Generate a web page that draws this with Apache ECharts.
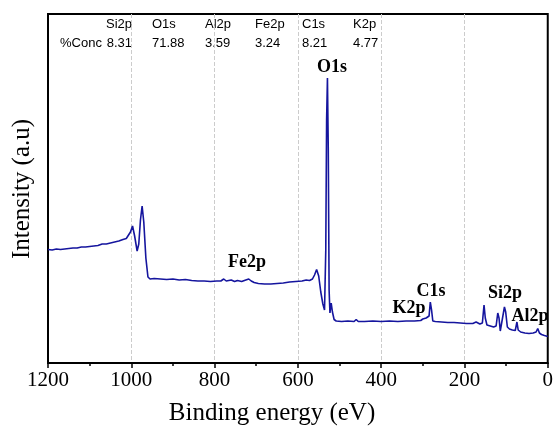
<!DOCTYPE html>
<html>
<head>
<meta charset="utf-8">
<script src="https://cdn.jsdelivr.net/npm/echarts@6/dist/echarts.min.js"></script>
<style>html,body{margin:0;padding:0;background:#fff}#c{width:556px;height:434px}</style>
</head>
<body>
<div id="c"></div>
<script>
// Binding energy (eV) of each sampled point
var energies = [1200,1190,1180,1170,1160,1150,1140,1130,1120,1110,1100,1090,1080,1070,1060,1050,1040,1030,1020,1012,1008,1002,997,992,986,982,978,974,970,965,960,955,945,930,915,900,885,870,855,840,825,810,795,785,778,772,760,752,745,735,725,718,712,705,695,680,665,650,635,620,605,590,580,572,565,560,555,550,545,540,536,533,531,529,527,525,523,520,517,513,508,495,480,465,460,455,440,420,400,380,360,340,320,305,300,296,292,288,285,282,279,276,270,255,240,225,210,195,180,172,163,157,153,150,146,138,130,124,120,117,114,110,104,101,97,92,85,78,74,71,65,55,45,35,28,24,20,15,8,0];
// Intensity (arbitrary units)
var intensities = [113.5,113,114,113.5,114,114.5,115,115,116,116,116.5,117,117.5,119,119,120,121,122,123.5,124.5,123,131,137,127,112,119,143,157,141,105,86,84,84.5,84,83.5,84,83,83.5,82.5,82,82,81.5,82,82,84,82,83,81.5,82.5,81.5,83,84,82,80.5,79.5,79,79,79.5,80,81,81.5,82,83,82.5,84,88,93.5,87,71,59,53,113,243,285,213,73,50,60,51,43.5,42,41.5,42,41.5,43.5,41.5,41.5,42,41.5,42,41.5,42,42,42.5,44,42.5,45,43.5,47,61,53,42,41.5,41,40.5,40.5,40,39.5,39.5,41,39,40,58,45,38,37,36,37,50,45,32,34,56,51,36,34,33,32.5,41,33,31,30,29.5,30,31,34.5,30,28.5,27.5,26.5];
// Peak annotations and quantification table
var peakLabels = ['O1s','Fe2p','C1s','K2p','Si2p','Al2p'];
var concElements = ['Si2p','O1s','Al2p','Fe2p','C1s','K2p'];
var concValues = ['8.31','71.88','3.59','3.24','8.21','4.77'];
var xTicks = [0,200,400,600,800,1000,1200];

var data = energies.map(function(e,i){return [e,intensities[i]];});
var chart = echarts.init(document.getElementById('c'), null, {renderer:'canvas'});

var serif = 'Liberation Serif, Times New Roman, serif';
var sans = 'Liberation Sans, Arial, sans-serif';

var graphics = [];
var colX = [132,152,205,255,302,353];
concElements.forEach(function(el,i){
  var al = i===0 ? 'right' : 'left';
  graphics.push({type:'text', x:colX[i], y:24, style:{text:el, font:'13px '+sans, fill:'#000', textAlign:al, align:al, textVerticalAlign:'middle', verticalAlign:'middle'}});
  graphics.push({type:'text', x:colX[i], y:43, style:{text:concValues[i], font:'13px '+sans, fill:'#000', textAlign:al, align:al, textVerticalAlign:'middle', verticalAlign:'middle'}});
});
graphics.push({type:'text', x:60, y:43, style:{text:'%Conc', font:'13px '+sans, fill:'#000', textAlign:'left', align:'left', textVerticalAlign:'middle', verticalAlign:'middle'}});
var labelPos = [[332,67],[247,262],[431,291],[409,308],[505,293],[530,316]];
peakLabels.forEach(function(t,i){
  graphics.push({type:'text', x:labelPos[i][0], y:labelPos[i][1], style:{text:t, font:'bold 18px '+serif, fill:'#000', textAlign:'center', align:'center', textVerticalAlign:'middle', verticalAlign:'middle'}});
});
graphics.push({type:'text', x:272, y:413, style:{text:'Binding energy (eV)', font:'25px '+serif, fill:'#000', textAlign:'center', align:'center', textVerticalAlign:'middle', verticalAlign:'middle'}});
graphics.push({type:'text', x:22, y:189, rotation:Math.PI/2, style:{text:'Intensity (a.u)', font:'25px '+serif, fill:'#000', textAlign:'center', align:'center', textVerticalAlign:'middle', verticalAlign:'middle'}});

chart.setOption({
  animation:false,
  backgroundColor:'#fff',
  grid:{left:48, right:8, top:14, bottom:71, show:true, borderColor:'#000', borderWidth:2, backgroundColor:'transparent'},
  xAxis:{
    type:'value', inverse:true, min:0, max:1200, interval:200,
    axisLine:{show:true, onZero:false, lineStyle:{color:'#000', width:2}},
    axisTick:{show:true, inside:false, length:5, lineStyle:{color:'#000', width:1.5}},
    minorTick:{show:true, splitNumber:2, length:3, lineStyle:{color:'#000', width:1.5}},
    splitLine:{show:true, showMinLine:false, showMaxLine:false, lineStyle:{type:'dashed', color:'#cccccc', width:1}},
    axisLabel:{fontFamily:serif, fontSize:21, color:'#000', margin:7,
      formatter:function(v){return xTicks.indexOf(v)>=0 ? String(v) : '';}}
  },
  yAxis:{
    type:'value', min:0, max:349,
    axisLine:{show:true, onZero:false, lineStyle:{color:'#000', width:2}},
    axisTick:{show:false}, minorTick:{show:false}, axisLabel:{show:false},
    splitLine:{show:false}, minorSplitLine:{show:false}
  },
  series:[{
    type:'line', data:data, showSymbol:false, symbol:'none',
    lineStyle:{color:'#15159e', width:1.6}, z:3
  }],
  graphic:graphics
});
</script>
</body>
</html>
